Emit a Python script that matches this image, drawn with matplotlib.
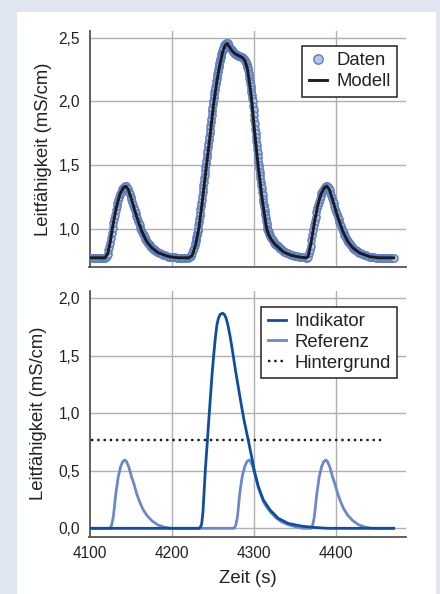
import matplotlib
matplotlib.use("Agg")
import matplotlib.pyplot as plt
from matplotlib.patches import Rectangle
from matplotlib.ticker import FuncFormatter, FixedLocator

plt.rcParams['font.family'] = ['Liberation Sans', 'DejaVu Sans']

# ---------------- data ----------------
x_ticks = [4100, 4200, 4300, 4400]
y_ticks_oben = [1.0, 1.5, 2.0, 2.5]
y_ticks_unten = [0.0, 0.5, 1.0, 1.5, 2.0]

# top panel: measured data (time, conductivity)
daten_punkte = [
    (4100, .770), (4102, .770), (4104, .769), (4106, .770), (4108, .771), (4110, .770),
    (4112, .770), (4114, .769), (4116, .770), (4118, .770),
    (4119, .770), (4120, .775), (4121, .787), (4122, .800), (4123, .830), (4124, .858),
    (4125, .887), (4126, .927), (4127, .966), (4128, 1.006), (4129, 1.045), (4130, 1.078),
    (4131, 1.110), (4132, 1.143), (4133, 1.176), (4134, 1.200), (4135, 1.223), (4136, 1.247),
    (4137, 1.270), (4138, 1.283), (4139, 1.295), (4140, 1.308), (4141, 1.320), (4142, 1.328),
    (4143, 1.335), (4144, 1.338), (4145, 1.333), (4146, 1.322), (4147, 1.310), (4148, 1.290),
    (4149, 1.270), (4150, 1.250), (4151, 1.230), (4152, 1.208), (4153, 1.187), (4154, 1.165),
    (4155, 1.143), (4156, 1.122), (4157, 1.100), (4158, 1.082), (4159, 1.063), (4160, 1.045),
    (4161, 1.026), (4162, 1.008), (4163, .990), (4164, .973), (4165, .960), (4166, .947),
    (4167, .933), (4168, .920), (4169, .907), (4170, .896), (4171, .888), (4172, .879),
    (4173, .871), (4174, .863), (4175, .854), (4176, .848), (4177, .843), (4178, .838),
    (4179, .833), (4180, .828), (4181, .823), (4182, .818), (4183, .813), (4184, .809),
    (4186, .804), (4188, .799), (4190, .795), (4192, .790), (4194, .785), (4196, .780),
    (4198, .778), (4200, .777), (4202, .775), (4204, .773), (4206, .772), (4208, .771),
    (4210, .770), (4212, .770), (4214, .769), (4216, .770), (4218, .770),
    (4220, .770), (4221, .775), (4222, .780), (4223, .785), (4224, .790), (4225, .810),
    (4226, .830), (4227, .850), (4228, .870), (4228.5, .886), (4229, .903), (4229.5, .919),
    (4230, .935), (4230.5, .951), (4231, .968), (4231.5, .984), (4232, 1.000), (4232.5, 1.025),
    (4233, 1.050), (4233.5, 1.075), (4234, 1.100), (4234.5, 1.125), (4235, 1.150), (4235.5, 1.175),
    (4236, 1.200), (4236.5, 1.228), (4237, 1.256), (4237.5, 1.284), (4238, 1.312), (4238.5, 1.340),
    (4239, 1.368), (4239.5, 1.396), (4240, 1.424), (4240.5, 1.452), (4241, 1.480), (4241.5, 1.507),
    (4242, 1.533), (4242.5, 1.560), (4243, 1.587), (4243.5, 1.613), (4244, 1.640), (4244.5, 1.667),
    (4245, 1.693), (4245.5, 1.720), (4246, 1.749), (4246.5, 1.778), (4247, 1.807), (4247.5, 1.836),
    (4248, 1.864), (4248.5, 1.893), (4249, 1.922), (4249.5, 1.951), (4250, 1.980), (4250.5, 2.003),
    (4251, 2.025), (4251.5, 2.048), (4252, 2.070), (4252.5, 2.093), (4253, 2.115), (4253.5, 2.138),
    (4254, 2.160), (4254.5, 2.178), (4255, 2.197), (4255.5, 2.215), (4256, 2.233), (4256.5, 2.252),
    (4257, 2.270), (4257.5, 2.285), (4258, 2.300), (4258.5, 2.315), (4259, 2.330), (4259.5, 2.345),
    (4260, 2.360), (4260.5, 2.375), (4261, 2.390), (4261.5, 2.398), (4262, 2.407), (4262.5, 2.415),
    (4263, 2.423), (4264, 2.440), (4265, 2.448), (4266, 2.458), (4267, 2.460), (4268, 2.455),
    (4269, 2.445), (4270, 2.432), (4271, 2.420), (4272, 2.410), (4273, 2.400), (4274, 2.394),
    (4275, 2.388), (4276, 2.381), (4277, 2.375), (4278, 2.371), (4279, 2.368), (4280, 2.364),
    (4281, 2.360), (4282, 2.357), (4283, 2.354), (4284, 2.351), (4285, 2.348), (4286, 2.345),
    (4287, 2.340), (4288, 2.333), (4289, 2.326),
    (4289.5, 2.318), (4290, 2.310), (4290.5, 2.300), (4291, 2.290), (4291.5, 2.280), (4292, 2.270),
    (4292.5, 2.260), (4293, 2.245), (4293.5, 2.225), (4294, 2.205), (4294.5, 2.183), (4295, 2.162),
    (4295.5, 2.141), (4296, 2.120), (4296.5, 2.098), (4297, 2.074), (4297.5, 2.050), (4298, 2.026),
    (4298.5, 2.000), (4299, 1.964), (4299.5, 1.929), (4300, 1.893), (4300.5, 1.857), (4301, 1.821),
    (4301.5, 1.786), (4302, 1.750), (4302.5, 1.719), (4303, 1.688), (4303.5, 1.656), (4304, 1.625),
    (4304.5, 1.594), (4305, 1.563), (4305.5, 1.531), (4306, 1.500), (4306.5, 1.474), (4307, 1.447),
    (4307.5, 1.421), (4308, 1.395), (4308.5, 1.368), (4309, 1.342), (4309.5, 1.316), (4310, 1.289),
    (4310.5, 1.263), (4311, 1.236), (4311.5, 1.210), (4312, 1.189), (4312.5, 1.168), (4313, 1.147),
    (4313.5, 1.126), (4314, 1.105), (4314.5, 1.084), (4315, 1.063), (4315.5, 1.042), (4316, 1.021),
    (4316.5, 1.000), (4317, .990), (4317.5, .980), (4318, .970), (4318.5, .960), (4319, .950),
    (4320, .938), (4321, .927), (4322, .915), (4323, .906), (4324, .898), (4325, .889),
    (4326, .880), (4327, .874), (4328, .868), (4329, .862), (4330, .856), (4331, .850),
    (4332, .844), (4333, .838), (4334, .833), (4335, .827), (4336, .821), (4337, .815),
    (4339, .810), (4341, .804), (4343, .799), (4345, .793), (4347, .789), (4349, .787),
    (4351, .784), (4353, .781), (4355, .778), (4357, .776), (4359, .774), (4361, .773),
    (4363, .771), (4365, .772),
    (4366, .780), (4367, .804), (4368, .834), (4369, .865), (4370, .907), (4371, .946),
    (4372, .986), (4373, 1.025), (4374, 1.061), (4375, 1.094), (4376, 1.127), (4377, 1.160),
    (4378, 1.188), (4379, 1.211), (4380, 1.235), (4381, 1.258), (4382, 1.276), (4383, 1.289),
    (4384, 1.301), (4385, 1.314), (4386, 1.322), (4387, 1.328), (4388, 1.333), (4389, 1.336),
    (4390, 1.330), (4391, 1.318), (4392, 1.300), (4393, 1.280), (4394, 1.260), (4395, 1.240),
    (4396, 1.219), (4397, 1.198), (4398, 1.176), (4399, 1.154), (4400, 1.132), (4401, 1.111),
    (4402, 1.091), (4403, 1.073), (4404, 1.054), (4405, 1.036), (4406, 1.017), (4407, .999),
    (4408, .980), (4409, .967), (4410, .953), (4411, .940), (4412, .927), (4413, .913),
    (4414, .900), (4415, .892), (4416, .883), (4417, .875), (4418, .867), (4419, .858),
    (4420, .850), (4421, .845), (4422, .840), (4423, .835), (4424, .830), (4425, .825),
    (4426, .820), (4427, .815), (4428, .810), (4430, .805), (4432, .800), (4434, .795),
    (4436, .790), (4438, .785), (4440, .780), (4442, .778), (4444, .776), (4446, .774),
    (4448, .772), (4450, .771), (4452, .770), (4454, .770), (4456, .769), (4458, .770),
    (4460, .770), (4462, .770), (4464, .769), (4466, .770), (4468, .770), (4470, .770),
]

# top panel: fitted model
modell_zeit = [4100, 4119, 4122, 4125, 4129, 4133, 4137, 4141, 4144, 4147, 4151, 4157,
               4163.5, 4169.5, 4175.5, 4183.5, 4196, 4208, 4221, 4225, 4229, 4233, 4237,
               4242, 4246.5, 4251, 4255, 4258, 4262, 4265, 4267.5, 4270, 4273, 4277, 4281,
               4286, 4289, 4292, 4295, 4297.5, 4301, 4305, 4310.5, 4315.5, 4318, 4321, 4325,
               4330, 4336, 4345, 4355, 4364, 4366, 4369.5, 4373.5, 4377.5, 4381.5, 4385.5,
               4388.5, 4391.5, 4395.5, 4401.5, 4408, 4414, 4420, 4428, 4440, 4452, 4470]
modell_wert = [0.770, 0.770, 0.800, 0.887, 1.045, 1.176, 1.270, 1.320, 1.333, 1.310, 1.230, 1.100,
               0.980, 0.900, 0.850, 0.810, 0.780, 0.770, 0.770, 0.790, 0.870, 1.000, 1.200,
               1.480, 1.720, 1.980, 2.160, 2.270, 2.390, 2.440, 2.455, 2.430, 2.400, 2.375, 2.360,
               2.345, 2.320, 2.260, 2.130, 2.000, 1.750, 1.500, 1.210, 1.000, 0.950, 0.915, 0.880,
               0.850, 0.815, 0.790, 0.776, 0.770, 0.780, 0.887, 1.045, 1.176, 1.270, 1.320,
               1.333, 1.310, 1.230, 1.100, 0.980, 0.900, 0.850, 0.810, 0.780, 0.770, 0.770]

# bottom panel: indicator
indikator_zeit = [4100, 4233, 4235, 4236.5, 4238, 4239.5, 4241, 4243, 4245, 4247, 4249, 4251,
                  4253, 4255, 4257, 4259, 4262, 4264, 4266, 4268, 4271, 4274, 4277, 4280, 4284,
                  4288, 4293, 4298, 4300.5, 4305.4, 4311.5, 4319.6, 4329.7, 4341.9, 4358, 4374,
                  4390, 4470]
indikator_wert = [0.0, 0.0, 0.01, 0.04, 0.14, 0.33, 0.52, 0.72, 0.93, 1.13, 1.33, 1.50,
                  1.65, 1.77, 1.83, 1.86, 1.87, 1.86, 1.83, 1.78, 1.67, 1.54, 1.40, 1.27, 1.10,
                  0.94, 0.77, 0.594, 0.50, 0.36, 0.246, 0.16, 0.086, 0.042, 0.019, 0.007,
                  0.0, 0.0]

# bottom panel: reference
referenz_zeit = [4100, 4125, 4127, 4129, 4132, 4135, 4138, 4140.5, 4143, 4145, 4148, 4151,
                 4154.3, 4157, 4161, 4165, 4170, 4176, 4183, 4191, 4199,
                 4276, 4278, 4280, 4283, 4286, 4289, 4291.5, 4294, 4296, 4299, 4302,
                 4305.3, 4308, 4312, 4316, 4321, 4327, 4334, 4342, 4350, 4360,
                 4369.5, 4371.5, 4373.5, 4376.5, 4379.5, 4382.5, 4385, 4387.5, 4389.5, 4392.5,
                 4395.5, 4398.8, 4401.5, 4405.5, 4409.5, 4414.5, 4420.5, 4427.5, 4435.5, 4443.5,
                 4470]
referenz_wert = [0.0, 0.0, 0.03, 0.10, 0.30, 0.45, 0.54, 0.58, 0.594, 0.58, 0.53, 0.45,
                 0.38, 0.31, 0.23, 0.165, 0.11, 0.065, 0.03, 0.01, 0.0,
                 0.0, 0.03, 0.10, 0.32, 0.46, 0.54, 0.58, 0.594, 0.58, 0.53, 0.45,
                 0.36, 0.30, 0.225, 0.18, 0.135, 0.09, 0.055, 0.03, 0.015, 0.0,
                 0.0, 0.03, 0.10, 0.30, 0.45, 0.54, 0.58, 0.594, 0.58, 0.53,
                 0.45, 0.38, 0.31, 0.23, 0.165, 0.11, 0.065, 0.03, 0.01, 0.0,
                 0.0]

# bottom panel: background level
hintergrund_zeit = [4102, 4460]
hintergrund_wert = [0.765, 0.765]

# ---------------- styling ----------------
W, H = 440, 594
BG = '#dfe5f1'
C_IND = '#0d4f9e'
C_REF = '#6d88c6'
C_DAT_FACE = '#b7c4e6'
C_DAT_EDGE = '#5a7cc1'
GRID = '#b0b0b0'
SPINE = '#555555'
TXT = '#222222'
FS_TICK = 11.2
FS_LAB = 13.3

fig = plt.figure(figsize=(W / 100, H / 100), dpi=100)
fig.patch.set_facecolor(BG)
fig.add_artist(Rectangle((17 / W, 0), (436 - 17) / W, (594 - 12) / H,
                         transform=fig.transFigure, facecolor='white', edgecolor='none', zorder=0))

def px_axes(left, top, right, bottom):
    return fig.add_axes([left / W, 1 - bottom / H, (right - left) / W, (bottom - top) / H])

def comma(v, pos):
    return f"{v:.1f}".replace('.', ',')

def style(ax, yticks):
    ax.set_facecolor('none')
    for s in ['top', 'right']:
        ax.spines[s].set_visible(False)
    for s in ['left', 'bottom']:
        ax.spines[s].set_color(SPINE)
        ax.spines[s].set_linewidth(1.3)
    ax.xaxis.set_major_locator(FixedLocator(x_ticks))
    ax.yaxis.set_major_locator(FixedLocator(yticks))
    ax.yaxis.set_major_formatter(FuncFormatter(comma))
    ax.tick_params(length=0, labelsize=FS_TICK, labelcolor=TXT, pad=7)
    ax.grid(True, color=GRID, linewidth=1.0)
    ax.set_axisbelow(True)
    ax.set_xlim(4100, 4485)

# top axes
ax1 = px_axes(89.5, 31.4, 406, 266.7)
style(ax1, y_ticks_oben)
ax1.set_ylim(0.70, 2.55)
ax1.tick_params(axis='x', labelbottom=False)
dz = [p[0] for p in daten_punkte]
dw = [p[1] for p in daten_punkte]
ax1.plot(dz, dw, linestyle='none', marker='o', markersize=5.2,
         markerfacecolor=C_DAT_FACE, markeredgecolor=C_DAT_EDGE, markeredgewidth=1.0,
         label='Daten', zorder=3)
ax1.plot(modell_zeit, modell_wert, color='#1c1c1c', linewidth=2.1, label='Modell', zorder=4)
ax1.set_ylabel('Leitfähigkeit (mS/cm)', fontsize=FS_LAB, color=TXT)
ax1.yaxis.set_label_coords(-0.118, 0.5)
leg1 = ax1.legend(loc='upper right', bbox_to_anchor=(0.9725, 0.938), borderaxespad=0,
                  fontsize=FS_LAB, frameon=True, fancybox=False, edgecolor='#222222',
                  framealpha=1, handlelength=1.0, handletextpad=0.5, labelspacing=0.2,
                  borderpad=0.35, markerscale=1.3)
leg1.get_frame().set_linewidth(1.1)
for t in leg1.get_texts():
    t.set_color(TXT)

# bottom axes
ax2 = px_axes(89.5, 290.7, 406, 536.7)
style(ax2, y_ticks_unten)
ax2.set_ylim(-0.073, 2.066)
ax2.plot(indikator_zeit, indikator_wert, color=C_IND, linewidth=2.0, label='Indikator', zorder=4)
ax2.plot(referenz_zeit, referenz_wert, color=C_REF, linewidth=2.0, label='Referenz', zorder=3)
ax2.plot(hintergrund_zeit, hintergrund_wert, color='#1a1a1a', linewidth=1.7, linestyle=':',
         label='Hintergrund', zorder=3)
ax2.set_ylabel('Leitfähigkeit (mS/cm)', fontsize=FS_LAB, color=TXT)
ax2.yaxis.set_label_coords(-0.135, 0.5)
ax2.set_xlabel('Zeit (s)', fontsize=FS_LAB, color=TXT, labelpad=6)
leg2 = ax2.legend(loc='upper right', bbox_to_anchor=(0.9725, 0.935), borderaxespad=0,
                  fontsize=FS_LAB, frameon=True, fancybox=False, edgecolor='#222222',
                  framealpha=1, handlelength=1.0, handletextpad=0.45, labelspacing=0.2,
                  borderpad=0.35)
leg2.get_frame().set_linewidth(1.1)
for t in leg2.get_texts():
    t.set_color(TXT)

fig.savefig('out.png', dpi=100, facecolor=fig.get_facecolor())
